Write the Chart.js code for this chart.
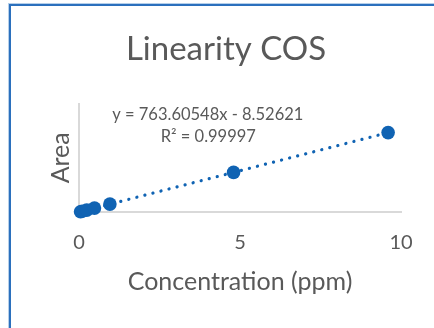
<!DOCTYPE html>
<html>
<head>
<meta charset="utf-8">
<script src="https://cdn.jsdelivr.net/npm/chart.js@4.4.0/dist/chart.umd.min.js"></script>
<style>
  html, body { margin: 0; padding: 0; background: #ffffff; overflow: hidden; }
  #wrap { position: relative; width: 434px; height: 328px; }
  #frame { position: absolute; left: 9px; top: 4px; width: 440px; height: 340px;
           border-left: 2px solid #2b70bd; border-top: 2px solid #2b70bd;
           box-shadow: -1px -1px 0 #b5cfea; pointer-events: none; }
  canvas { position: absolute; left: 0; top: 0; }
</style>
</head>
<body>
<div id="wrap">
  <canvas id="c" width="434" height="328"></canvas>
  <div id="frame"></div>
</div>
<script>
// ---- data ----
const concentration = [0.048, 0.096, 0.24, 0.48, 0.96, 4.8, 9.6];
const area = [28, 66, 176, 358, 727, 3652, 7324];
const xTicks = [0, 5, 10];
const slope = 763.60548;
const intercept = -8.52621;
const equationText = "y = 763.60548x - 8.52621";
const r2Text = "R\u00B2 = 0.99997";
const chartTitle = "Linearity COS";
const xAxisTitle = "Concentration (ppm)";
const yAxisTitle = "Area";

const blue = "#1063b3";
const textGray = "#595959";
const axisGray = "#d9d9d9";
const FONT = "Lato, 'Open Sans', sans-serif";

const points = concentration.map((x, i) => ({ x: x, y: area[i] }));
const xFirst = concentration[0];
const xLast = concentration[concentration.length - 1];
const trend = [
  { x: xFirst, y: slope * xFirst + intercept },
  { x: xLast, y: slope * xLast + intercept }
];

const equationPlugin = {
  id: "equationLabel",
  afterDatasetsDraw(chart) {
    const { ctx, scales } = chart;
    const cx = scales.x.getPixelForValue(4.0);
    const y1 = scales.y.getPixelForValue(8950);
    ctx.save();
    ctx.font = "16.5px " + FONT;
    ctx.fillStyle = textGray;
    ctx.textAlign = "center";
    ctx.textBaseline = "middle";
    ctx.fillText(equationText, cx, y1);
    ctx.fillText(r2Text, cx + 0.5, y1 + 21.5);
    ctx.restore();
  }
};

new Chart(document.getElementById("c"), {
  type: "scatter",
  data: {
    datasets: [
      {
        label: "Area",
        data: points,
        backgroundColor: blue,
        borderColor: blue,
        pointRadius: 6.8,
        pointHoverRadius: 6.8,
        pointBorderWidth: 0,
        showLine: false,
        clip: false
      },
      {
        label: "Linear trendline",
        data: trend,
        showLine: true,
        borderColor: blue,
        borderWidth: 3.2,
        borderDash: [0.1, 8.2],
        borderCapStyle: "round",
        pointRadius: 0,
        fill: false,
        clip: false
      }
    ]
  },
  plugins: [equationPlugin],
  options: {
    responsive: false,
    devicePixelRatio: 1,
    animation: false,
    layout: { padding: { left: 51, right: 33, top: 10, bottom: 27 } },
    plugins: {
      legend: { display: false },
      tooltip: { enabled: false },
      title: {
        display: true,
        text: chartTitle,
        color: textGray,
        font: { family: FONT, size: 33, weight: "normal" },
        padding: { top: 20, bottom: 34 }
      }
    },
    scales: {
      x: {
        type: "linear",
        min: 0,
        max: 10,
        afterBuildTicks(scale) { scale.ticks = xTicks.map(v => ({ value: v })); },
        afterFit(scale) { scale.height = 89; },
        ticks: {
          color: textGray,
          font: { family: FONT, size: 20 },
          padding: 19,
          maxRotation: 0
        },
        grid: { display: false, drawTicks: false },
        border: { display: true, color: axisGray, width: 2 },
        title: {
          display: true,
          text: xAxisTitle,
          color: textGray,
          font: { family: FONT, size: 25 },
          padding: { top: 0, bottom: 4 }
        }
      },
      y: {
        type: "linear",
        min: 0,
        max: 10000,
        afterFit(scale) { scale.width = 28; },
        ticks: { display: false },
        grid: { display: false, drawTicks: false },
        border: { display: true, color: axisGray, width: 2 },
        title: {
          display: true,
          text: yAxisTitle,
          color: textGray,
          font: { family: FONT, size: 25 },
          padding: { top: -5, bottom: 0 }
        }
      }
    }
  }
});
</script>
</body>
</html>
